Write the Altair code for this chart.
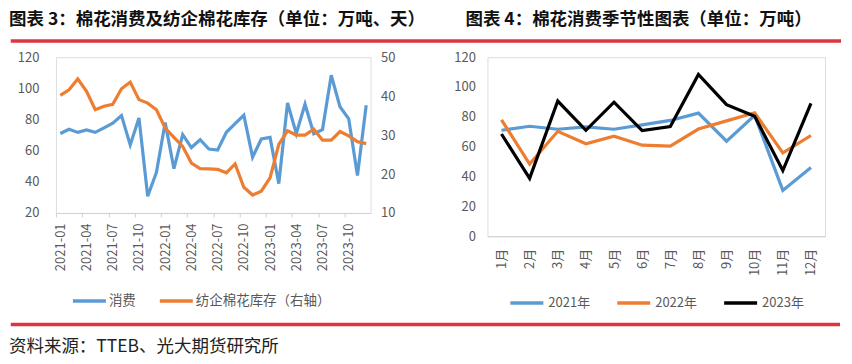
import altair as alt
import pandas as pd

# ---------------- data ----------------
months36 = [f"{y}-{m:02d}" for y in (2021, 2022, 2023) for m in range(1, 13)]
tick_months = months36[::3]
month_labels = ["1月", "2月", "3月", "4月", "5月", "6月", "7月", "8月", "9月", "10月", "11月", "12月"]

cons_2021 = [71.0, 73.7, 71.7, 73.3, 71.7, 74.6, 77.6, 82.5, 63.7, 81.0, 30.7, 46.1]
cons_2022 = [78.0, 48.4, 70.3, 62.0, 67.0, 61.0, 60.4, 71.8, 77.3, 82.7, 55.8, 67.5]
cons_2023 = [68.5, 38.8, 90.6, 71.0, 89.8, 70.8, 73.5, 108.4, 88.2, 80.4, 44.0, 89.1]

inventory = [40.2, 41.6, 44.4, 41.2, 36.5, 37.4, 37.9, 41.9, 43.6, 39.1, 38.2, 36.5,
             31.8, 29.4, 27.1, 22.8, 21.4, 21.3, 21.2, 20.3, 22.6, 16.6, 14.6, 15.6,
             19.0, 27.6, 31.1, 30.0, 30.0, 31.5, 28.7, 28.7, 30.9, 29.8, 28.3, 27.8]

series_names = ["消费", "纺企棉花库存（右轴）"]
year_names = ["2021年", "2022年", "2023年"]

title_left = "图表 3：棉花消费及纺企棉花库存（单位：万吨、天）"
title_right = "图表 4：棉花消费季节性图表（单位：万吨）"
source_text = "资料来源：TTEB、光大期货研究所"

# ---------------- style ----------------
BLUE, ORANGE, BLACK = "#5B9BD5", "#ED7D31", "#000000"
RED = "#DC3540"
GRAY = "#595959"
AXISC = "#D0D0D0"
FONT = "Noto Sans CJK SC"

W1, H1 = 315, 156
W2, H2 = 338, 179.3

consumption = cons_2021 + cons_2022 + cons_2023
df_cons = pd.DataFrame({"month": months36, "value": consumption, "series": series_names[0]})
df_inv = pd.DataFrame({"month": months36, "value": inventory, "series": series_names[1]})

season_rows = []
for yname, vals in zip(year_names, [cons_2021, cons_2022, cons_2023]):
    for m, v in zip(month_labels, vals):
        season_rows.append({"month": m, "value": v, "year": yname})
df_season = pd.DataFrame(season_rows)


def make_legend(lx, ly, colpad, size, loff):
    return alt.Legend(orient="none", legendX=lx, legendY=ly, direction="horizontal",
                      title=None, symbolType="stroke", symbolSize=1089,
                      symbolStrokeWidth=3.5, labelOffset=loff, columnPadding=colpad,
                      padding=0, labelFontSize=size, labelColor=GRAY, labelFont=FONT)


legend1 = make_legend(15, 225.3, 17, 13.5, 1)
legend2 = make_legend(21, 227.3, 20, 13, 3)

color1 = alt.Color("series:N", scale=alt.Scale(domain=series_names, range=[BLUE, ORANGE]),
                   legend=legend1)

x1 = alt.X("month:O", sort=months36, scale=alt.Scale(type="point", padding=0.5),
           axis=alt.Axis(title=None, values=tick_months, labelAngle=270, tickOffset=-4.375,
                         labelOffset=4.375, tickSize=4, tickColor=AXISC, domainColor=AXISC,
                         labelPadding=6, labelFontSize=13, labelColor=GRAY, labelFont=FONT,
                         grid=False, labelOverlap=False))

line_cons = alt.Chart(df_cons).mark_line(strokeWidth=3.2).encode(
    x=x1,
    y=alt.Y("value:Q", scale=alt.Scale(domain=[20, 120], nice=False, zero=False),
            axis=alt.Axis(title=None, values=[20, 40, 60, 80, 100, 120], domain=False,
                          ticks=False, grid=False, labelPadding=17, labelFontSize=13,
                          labelColor=GRAY, labelFont=FONT)),
    color=color1,
)

line_inv = alt.Chart(df_inv).mark_line(strokeWidth=3.2).encode(
    x=x1,
    y=alt.Y("value:Q", scale=alt.Scale(domain=[10, 50], nice=False, zero=False),
            axis=alt.Axis(title=None, orient="right", values=[10, 20, 30, 40, 50], domain=False,
                          ticks=False, grid=False, labelPadding=10, labelFontSize=13,
                          labelColor=GRAY, labelFont=FONT)),
    color=color1,
)


def deco_text(txt, x, y, size, weight, color):
    return alt.Chart(pd.DataFrame({"t": [txt]})).mark_text(
        align="left", baseline="middle", fontSize=size, fontWeight=weight,
        font=FONT, color=color).encode(text="t:N", x=alt.value(x), y=alt.value(y))


def deco_rule(xa, xb, y):
    return alt.Chart(pd.DataFrame({"t": [0]})).mark_rule(color=RED, strokeWidth=3.5).encode(
        x=alt.value(xa), x2=alt.value(xb), y=alt.value(y))


# positions relative to the left plot's origin (left plot at page x=55, y=55.7)
decor = [
    deco_text(title_left, -47, -36.95, 17.5, "bold", "#111111"),
    deco_text(title_right, 410, -36.95, 17.5, "bold", "#111111"),
    deco_rule(-45.25, 786, -16.2),
    deco_rule(-45.25, 785, 267.6),
    deco_text(source_text, -47, 290.3, 17.5, "normal", "#222222"),
]

panel1 = alt.layer(line_cons, line_inv, *decor).resolve_scale(y="independent").properties(
    width=W1, height=H1)

panel2 = alt.Chart(df_season).mark_line(strokeWidth=3.2).encode(
    x=alt.X("month:O", sort=month_labels, scale=alt.Scale(type="point", padding=0.5),
            axis=alt.Axis(title=None, labelAngle=270, ticks=False, domainColor=AXISC,
                          labelPadding=12, labelFontSize=13, labelColor=GRAY, labelFont=FONT,
                          grid=False, labelOverlap=False)),
    y=alt.Y("value:Q", scale=alt.Scale(domain=[0, 120], nice=False),
            axis=alt.Axis(title=None, values=[0, 20, 40, 60, 80, 100, 120], domain=False,
                          ticks=False, grid=False, labelPadding=12, labelFontSize=13,
                          labelColor=GRAY, labelFont=FONT)),
    color=alt.Color("year:N", scale=alt.Scale(domain=year_names, range=[BLUE, ORANGE, BLACK]),
                    legend=legend2),
).properties(width=W2, height=H2)

chart = alt.hconcat(panel1, panel2, spacing=117, bounds="flush").resolve_scale(
    color="independent"
).properties(
    padding={"left": 0, "top": 2, "right": 0, "bottom": 0}
).configure_view(stroke=None).configure(font=FONT)

chart.save("out.html", embed_options={"renderer": "svg", "actions": False})
